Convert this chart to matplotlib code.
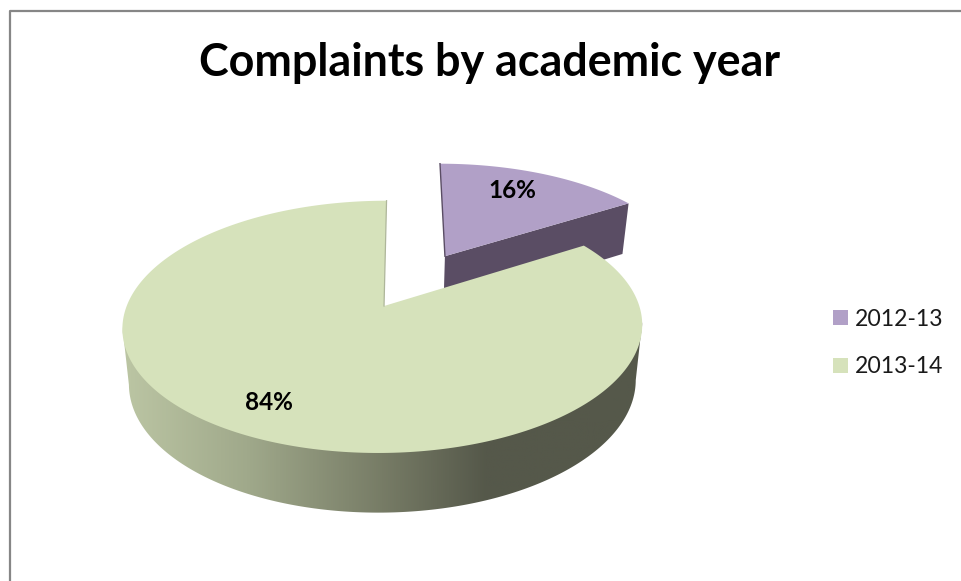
import numpy as np
import matplotlib
matplotlib.use("Agg")
import matplotlib.pyplot as plt
from matplotlib.colors import LinearSegmentedColormap
from matplotlib.patches import Patch, Polygon

# Chart data
title = "Complaints by academic year"
years = ["2012-13", "2013-14"]
shares = [16, 84]
colors = ["#b1a0c7", "#d6e2bb"]

# Perspective camera for the tilted disc, in pixel units
RADIUS = 256.3
TILT_C = 0.1653
TILT_A = -72.1
BASE_Y = 306.0
VANISH_X = 408.0
OFFSET_X = -25.0
DEPTH = 54.5
DEPTH_TAPER = 0.975
AXIS_X = 383.5
EXPLODE = (0.252, 0.435)
MAIN_APEX = (0.004, 0.0)


def project(u, v):
    w = 1 + TILT_C * v
    return VANISH_X + (RADIUS * u + OFFSET_X) / w, (BASE_Y + TILT_A * v) / w


def project_low(u, v):
    x, y = project(u, v)
    w = 1 + TILT_C * np.asarray(v)
    return AXIS_X + (x - AXIS_X) * DEPTH_TAPER, y + DEPTH / np.sqrt(w)


def rim(theta, shift=(0.0, 0.0)):
    return np.sin(theta) + shift[0], np.cos(theta) + shift[1]


def slice_outline(theta, apex, shift=(0.0, 0.0)):
    x, y = project(*rim(theta, shift))
    apex_x, apex_y = project(np.array([apex[0]]), np.array([apex[1]]))
    return np.column_stack([np.r_[apex_x, x], np.r_[apex_y, y]])


fig = plt.figure(figsize=(9.61, 5.81), dpi=100)
ax = fig.add_axes([0, 0, 1, 1])
ax.set_xlim(0, 961)
ax.set_ylim(581, 0)
ax.axis("off")

plt.rcParams["font.family"] = ["Lato", "DejaVu Sans"]

# Chart frame, open on the right and bottom where the crop cuts it
ax.plot([9.5, 9.5, 961], [581, 10.5, 10.5], color="#868686", lw=1.6, zorder=1)

# Slice angles, clockwise from twelve o'clock
split = 2 * np.pi * shares[0] / sum(shares)
theta_first = np.linspace(0, split, 80)
theta_second = np.linspace(split, 2 * np.pi, 320)

# Exploded slice: cut face first, then its top
corner = rim(np.array([split]), EXPLODE)
apex_u, apex_v = np.array([EXPLODE[0]]), np.array([EXPLODE[1]])
face_top = np.column_stack(project(np.r_[apex_u, corner[0]], np.r_[apex_v, corner[1]]))
face_low = np.column_stack(project_low(np.r_[corner[0], apex_u], np.r_[corner[1], apex_v]))
ax.add_patch(Polygon(np.vstack([face_top, face_low]), closed=True,
                     fc="#5a4d64", ec="none", zorder=2))
first_top = slice_outline(theta_first, EXPLODE, EXPLODE)
ax.add_patch(Polygon(first_top, closed=True, fc=colors[0], ec="none", zorder=3))
ax.plot(first_top[:2, 0], first_top[:2, 1], color="#5a4d64", lw=1.0, zorder=3)

# Outer wall of the large slice, shaded by a horizontal gradient
wall_theta = np.linspace(np.radians(80), np.radians(280), 300)
rim_x, rim_y = project(*rim(wall_theta))
right = np.argmax(rim_x)
left = np.argmin(rim_x)
wall_theta = wall_theta[right:left + 1]
rim_x, rim_y = project(*rim(wall_theta))
low_x, low_y = project_low(*rim(wall_theta))
# The upper edge sits slightly under the top face so no seam shows
wall = Polygon(np.column_stack([np.r_[rim_x, low_x[::-1]],
                                np.r_[rim_y - 3, low_y[::-1]]]),
               closed=True, fc="none", ec="none", transform=ax.transData)
ax.add_patch(wall)
stops = [(0.0, "#bcc6a4"), (0.24, "#a0a98b"), (0.5, "#777c66"),
         (0.70, "#55584a"), (1.0, "#55584a")]
shade = LinearSegmentedColormap.from_list("wall_shade", stops)
img = ax.imshow(np.linspace(0, 1, 512)[None, :], cmap=shade, aspect="auto",
                extent=(121, 643, 520, 320), zorder=2.5)
img.set_clip_path(wall)
ax.set_xlim(0, 961)
ax.set_ylim(581, 0)

# Top of the large slice
second_top = slice_outline(theta_second, MAIN_APEX)
ax.add_patch(Polygon(second_top, closed=True, fc=colors[1], ec="none", zorder=4))
ax.plot(second_top[[-1, 0], 0], second_top[[-1, 0], 1], color="#aeb69a", lw=0.9, zorder=4)

# Percentage labels
label_style = dict(ha="center", va="center", fontsize=17.5, fontweight="bold",
                   color="black", zorder=5)
ax.text(512, 191, f"{shares[0]}%", **label_style)
ax.text(269, 402, f"{shares[1]}%", **label_style)

# Title and legend
ax.text(489.5, 63, title, ha="center", va="center", fontsize=32.3,
        fontweight="bold", color="black")
handles = [Patch(fc=c, ec="none") for c in colors]
ax.legend(handles, years, loc="center left", bbox_to_anchor=(833, 343),
          bbox_transform=ax.transData, frameon=False, fontsize=16.6,
          handlelength=0.65, handleheight=0.65, handletextpad=0.3,
          labelspacing=1.17, labelcolor="#1a1a1a", borderpad=0, borderaxespad=0)

fig.savefig("out.png", dpi=100)
